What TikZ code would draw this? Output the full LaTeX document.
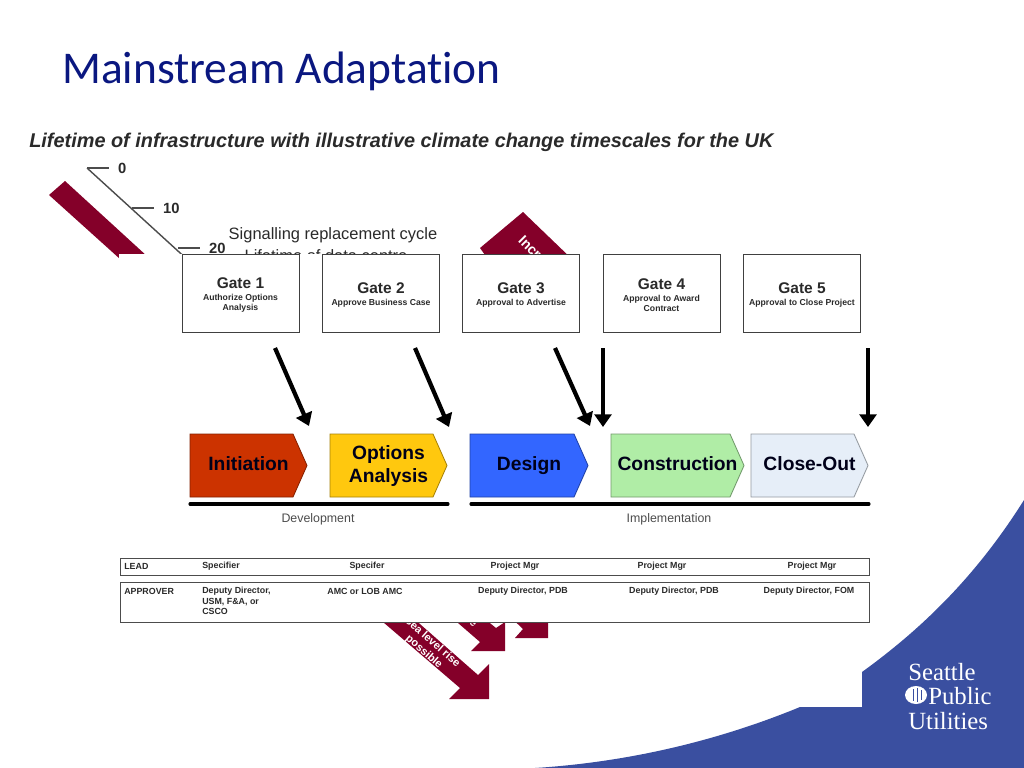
\documentclass[tikz,border=0pt]{standalone}
\usepackage{fontspec}
\setmainfont{Liberation Sans}
\newfontfamily\titlefont[Ligatures=NoCommon]{Carlito}
\newfontfamily\logofont{Liberation Serif}
\usepackage{tikz}
\usetikzlibrary{arrows.meta,positioning}
\definecolor{slideblue}{HTML}{3A4FA0}
\definecolor{titleblue}{HTML}{0A1780}
\definecolor{maroon}{HTML}{840029}
\definecolor{inktext}{HTML}{2A2A2A}
\definecolor{initfill}{HTML}{CC3300}
\definecolor{optfill}{HTML}{FFC80E}
\definecolor{designfill}{HTML}{3366FF}
\definecolor{constfill}{HTML}{B0EDA6}
\definecolor{closefill}{HTML}{E6EEF8}
\tikzset{
	gatebox/.style={draw=black!75, line width=0.6pt, fill=white, minimum width=83.2pt, minimum height=55.5pt, inner sep=0pt, align=center, text=inktext, font=\fontsize{6.15}{7.1}\selectfont\bfseries},
	proctext/.style={inner sep=0pt, align=center, font=\fontsize{13.7}{17}\selectfont\bfseries, text=black!90!blue},
	rowbox/.style={draw=black!70, line width=0.7pt, fill=white},
	celltext/.style={font=\fontsize{6.3}{7.7}\selectfont\bfseries, text=inktext, inner sep=0pt, align=#1},
	celltext/.default=center,
	bigarrow/.style={line width=3pt, -{Triangle[length=9pt,width=12pt]}, black},
	phasebar/.style={line width=2.2pt, line cap=round, black},
	maroonarrow/.style={fill=maroon, draw=none},
	ticktext/.style={font=\fontsize{10.5}{12}\selectfont\bfseries, text=inktext, inner sep=0pt}
}
\newcommand{\gatetxt}[2]{\fontsize{11}{11.5}\selectfont\rule{0pt}{10.1pt}#1\\[1.4pt]#2}
% name, left, right, fill, text
\newcommand{\procshape}[5]{
	\draw[draw=#4!65!black, fill=#4, line width=0.6pt] (#2,434) -- ({#3-14},434) -- (#3,465.5) -- ({#3-14},497) -- (#2,497) -- cycle;
	\node[proctext] (#1) at ({(#2+#3)/2},466) {\vphantom{g}#5};
}
\begin{document}
\begin{tikzpicture}[x=0.025cm, y=-0.025cm]
	\useasboundingbox (0,0) rectangle (1024,768);
	\fill[white] (0,0) rectangle (1024,768);
	% corner
	\fill[slideblue] (1024,500) .. controls (975,578) and (920,630) .. (862,672) -- (862,707) -- (800,707) .. controls (720,740) and (630,762) .. (535,768) -- (1024,768) -- cycle;
	\node[anchor=west, inner sep=0pt, text=titleblue, font=\titlefont\fontsize{32.3}{38}\selectfont] (title) at (62,71) {Mainstream Adaptation};
	\node[anchor=west, inner sep=0pt, text=inktext, font=\fontsize{14.15}{17}\selectfont\bfseries\itshape] (subtitle) at (29,142) {Lifetime of infrastructure with illustrative climate change timescales for the UK};
	% old chart behind
	\fill[maroonarrow] (65,181) -- (160,268) -- (130,268) -- (49,195) -- cycle;
	\fill[maroonarrow] (523,212) -- (575,262) -- (490,262) -- (480,248) -- cycle;
	\node[rotate=-45, text=white, font=\fontsize{10}{12}\selectfont\bfseries, inner sep=0pt] (incr) at (530,247) {Incr};
	\draw[line width=1pt, black!70] (87,168) -- (190,262);
	\foreach \tx/\ty/\tname in {87/168/0,132/208/10,178/248/20} {
		\draw[line width=1pt, black!70] (\tx,\ty) -- ++(22,0) node[right=6pt, ticktext] (tick\tname) {\tname};
	}
	\node[inner sep=0pt, text=inktext, font=\fontsize{11.7}{14}\selectfont] (signalling) at (333,235) {Signalling replacement cycle};
	\node[inner sep=0pt, text=inktext, font=\fontsize{11.7}{14}\selectfont] (datacentre) at (326,256) {Lifetime of data centre};
	\fill[maroonarrow] (369,610) -- (460,688) -- (449,699) -- (489,699) -- (489,664) -- (478,675) -- (404,610) -- cycle;
	\fill[maroonarrow] (443,610) -- (480,642) -- (471,651) -- (505,651) -- (505,622) -- (496,628) -- (474,610) -- cycle;
	\fill[maroonarrow] (503,610) -- (523,629) -- (515,638) -- (548,638) -- (548,610) -- cycle;
	\node[rotate=-41, text=white, font=\fontsize{7.8}{9}\selectfont\bfseries, align=center, inner sep=0pt] (sealevel) at (428,647) {Sea level rise\\possible};
	\node[rotate=-41, text=white, font=\fontsize{7.8}{9}\selectfont\bfseries, inner sep=0pt] (fragment) at (473,623) {e};
	% pasted process chart
	\fill[white] (119,254) rectangle (880,622);
	\node[gatebox] (gate1) at (240.5,293) {\gatetxt{Gate 1}{Authorize Options\\Analysis}};
	\node[gatebox] (gate2) at (381,293) {\gatetxt{Gate 2}{Approve Business Case}};
	\node[gatebox] (gate3) at (521,293) {\gatetxt{Gate 3}{Approval to Advertise}};
	\node[gatebox] (gate4) at (661.5,293) {\gatetxt{Gate 4}{Approval to Award\\Contract}};
	\node[gatebox] (gate5) at (802,293) {\gatetxt{Gate 5}{Approval to Close Project}};
	\procshape{initiation}{190}{307}{initfill}{Initiation}
	\procshape{options}{330}{447}{optfill}{Options\\Analysis}
	\procshape{design}{470}{588}{designfill}{Design}
	\procshape{construction}{611}{744}{constfill}{Construction}
	\procshape{closeout}{751}{868}{closefill}{Close-Out}
	% gate arrows
	\coordinate (g1out) at (275,348);
	\coordinate (g2out) at (415,348);
	\coordinate (g3out) at (555,348);
	\coordinate (g4out) at (603,348);
	\coordinate (g5out) at (868,348);
	\coordinate (g1in) at (309,426);
	\coordinate (g2in) at (449,427);
	\coordinate (g3in) at (590,426);
	\coordinate (g4in) at (603,427);
	\coordinate (g5in) at (868,427);
	\foreach \gatenum in {1,...,5} {
		\draw[bigarrow] (g\gatenum out) -- (g\gatenum in);
	}
	% phases
	\coordinate (devstart) at (190,504);
	\coordinate (devend) at (448,504);
	\coordinate (impstart) at (471,504);
	\coordinate (impend) at (869,504);
	\draw[phasebar] (devstart) -- (devend);
	\draw[phasebar] (impstart) -- (impend);
	\node[inner sep=0pt, text=black!70, font=\fontsize{8.8}{10}\selectfont] (development) at (318,519) {Development};
	\node[inner sep=0pt, text=black!70, font=\fontsize{8.8}{10}\selectfont] (implementation) at (669,519) {Implementation};
	% table
	\draw[rowbox] (120,558) rectangle (869,575);
	\draw[rowbox] (120,582) rectangle (869,622);
	\node[celltext=left, anchor=west] (leadhead) at (124,566.7) {LEAD};
	\node[celltext=left, anchor=west] (leadone) at (202,566.7) {Specifier};
	\node[celltext] (leadtwo) at (367,566.7) {Specifer};
	\node[celltext] (leadthree) at (515,566.7) {Project Mgr};
	\node[celltext] (leadfour) at (662,566.7) {Project Mgr};
	\node[celltext] (leadfive) at (812,566.7) {Project Mgr};
	\node[celltext=left, anchor=west] (apphead) at (124,591.5) {APPROVER};
	\node[celltext=left, anchor=north west] (appone) at (202,586.5) {Deputy Director,\\USM, F\&A, or\\CSCO};
	\node[celltext] (apptwo) at (365,591.5) {AMC or LOB AMC};
	\node[celltext] (appthree) at (523,591.5) {Deputy Director, PDB};
	\node[celltext] (appfour) at (674,591.5) {Deputy Director, PDB};
	\node[celltext] (appfive) at (809,591.5) {Deputy Director, FOM};
	% logo
	\node[anchor=west, inner sep=0pt, text=white, font=\logofont\fontsize{17.6}{20}\selectfont] (seattle) at (908,672) {Seattle};
	\node[anchor=west, inner sep=0pt, text=white, font=\logofont\fontsize{17.6}{20}\selectfont] (public) at (928,696) {Public};
	\node[anchor=west, inner sep=0pt, text=white, font=\logofont\fontsize{17.6}{20}\selectfont] (utilities) at (908,721) {Utilities};
	\fill[white] (916,695) ellipse (11 and 9);
	\draw[slideblue, line width=0.6pt] (913,689) -- (913,701) (917,688) -- (917,702) (921,690) -- (921,700);
\end{tikzpicture}
\end{document}
